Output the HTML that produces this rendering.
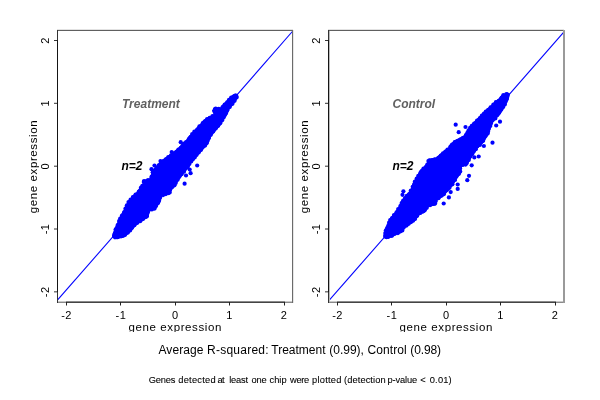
<!DOCTYPE html>
<html><head><meta charset="utf-8"><style>
html,body{margin:0;padding:0;background:#fff;width:600px;height:400px;overflow:hidden}
svg{display:block;will-change:transform}
text{font-family:"Liberation Sans",sans-serif;fill:#000}
.tk{font-size:11px;letter-spacing:0.4px}
.lab{font-size:11.5px;letter-spacing:0.6px}
.ann{font-size:12px;font-weight:bold;font-style:italic;fill:#606060}
.n2{font-size:12px;font-weight:bold;font-style:italic}
.ttl{font-size:12px}
.sub{font-size:10px;letter-spacing:-0.28px}
</style></head><body>
<svg width="600" height="400" viewBox="0 0 600 400">
<defs><clipPath id="cl"><rect x="0" y="0" width="600" height="332"/></clipPath></defs>
<rect width="600" height="400" fill="#fff"/>
<line x1="57.4" y1="300.2" x2="292.8" y2="31.0" stroke="#0000ff" stroke-width="1.1"/>
<g shape-rendering="crispEdges">
<rect x="57" y="29" width="236" height="1" fill="#e2e2e2"/>
<rect x="57" y="30" width="236" height="1" fill="#606060"/>
<rect x="57" y="301" width="236" height="1" fill="#cacaca"/>
<rect x="57" y="302" width="236" height="1" fill="#8a8a8a"/>
<rect x="66" y="301" width="219" height="1" fill="#8a8a8a"/>
<rect x="66" y="302" width="219" height="1" fill="#444"/>
<rect x="57" y="30" width="1" height="273" fill="#333"/>
<rect x="57" y="40" width="1" height="252" fill="#151515"/>
<rect x="292" y="30" width="1" height="273" fill="#6b6b6b"/>
<rect x="293" y="30" width="1" height="273" fill="#e6e6e6"/>
</g>
<line x1="66.5" y1="302" x2="66.5" y2="305.5" stroke="#222" stroke-width="1"/>
<line x1="120.5" y1="302" x2="120.5" y2="305.5" stroke="#222" stroke-width="1"/>
<line x1="175.5" y1="302" x2="175.5" y2="305.5" stroke="#222" stroke-width="1"/>
<line x1="229.5" y1="302" x2="229.5" y2="305.5" stroke="#222" stroke-width="1"/>
<line x1="284.5" y1="302" x2="284.5" y2="305.5" stroke="#222" stroke-width="1"/>
<line x1="54" y1="291.85" x2="57" y2="291.85" stroke="#333" stroke-width="1"/>
<line x1="54" y1="229" x2="57" y2="229" stroke="#333" stroke-width="1"/>
<line x1="54" y1="166.2" x2="57" y2="166.2" stroke="#333" stroke-width="1"/>
<line x1="54" y1="103.3" x2="57" y2="103.3" stroke="#333" stroke-width="1"/>
<line x1="54" y1="40.5" x2="57" y2="40.5" stroke="#333" stroke-width="1"/>
<text x="66.5" y="318.8" class="tk" text-anchor="middle">-2</text>
<text x="120.9" y="318.8" class="tk" text-anchor="middle">-1</text>
<text x="175.25" y="318.8" class="tk" text-anchor="middle">0</text>
<text x="229.6" y="318.8" class="tk" text-anchor="middle">1</text>
<text x="284" y="318.8" class="tk" text-anchor="middle">2</text>
<text transform="translate(49.2,291.85) rotate(-90)" class="tk" text-anchor="middle">-2</text>
<text transform="translate(49.2,229) rotate(-90)" class="tk" text-anchor="middle">-1</text>
<text transform="translate(49.2,166.2) rotate(-90)" class="tk" text-anchor="middle">0</text>
<text transform="translate(49.2,103.3) rotate(-90)" class="tk" text-anchor="middle">1</text>
<text transform="translate(49.2,40.5) rotate(-90)" class="tk" text-anchor="middle">2</text>
<text x="175.25" y="330.6" class="lab" text-anchor="middle" clip-path="url(#cl)">gene expression</text>
<text transform="translate(37.3,166.5) rotate(-90)" class="lab" text-anchor="middle">gene expression</text>
<line x1="329.3" y1="300.2" x2="564.2" y2="31.7" stroke="#0000ff" stroke-width="1.1"/>
<g shape-rendering="crispEdges">
<rect x="328" y="29" width="236" height="1" fill="#e2e2e2"/>
<rect x="328" y="30" width="236" height="1" fill="#606060"/>
<rect x="328" y="301" width="236" height="1" fill="#cacaca"/>
<rect x="328" y="302" width="236" height="1" fill="#8a8a8a"/>
<rect x="337" y="301" width="219" height="1" fill="#8a8a8a"/>
<rect x="337" y="302" width="219" height="1" fill="#444"/>
<rect x="328" y="30" width="1" height="273" fill="#333"/>
<rect x="329" y="31" width="1" height="271" fill="#bbb"/>
<rect x="328" y="40" width="1" height="252" fill="#151515"/>
<rect x="563" y="30" width="1" height="273" fill="#9a9a9a"/>
<rect x="564" y="30" width="1" height="273" fill="#9a9a9a"/>
</g>
<line x1="337.5" y1="302" x2="337.5" y2="305.5" stroke="#222" stroke-width="1"/>
<line x1="391.5" y1="302" x2="391.5" y2="305.5" stroke="#222" stroke-width="1"/>
<line x1="446.5" y1="302" x2="446.5" y2="305.5" stroke="#222" stroke-width="1"/>
<line x1="500.5" y1="302" x2="500.5" y2="305.5" stroke="#222" stroke-width="1"/>
<line x1="555.5" y1="302" x2="555.5" y2="305.5" stroke="#222" stroke-width="1"/>
<line x1="325" y1="291.85" x2="328" y2="291.85" stroke="#333" stroke-width="1"/>
<line x1="325" y1="229" x2="328" y2="229" stroke="#333" stroke-width="1"/>
<line x1="325" y1="166.2" x2="328" y2="166.2" stroke="#333" stroke-width="1"/>
<line x1="325" y1="103.3" x2="328" y2="103.3" stroke="#333" stroke-width="1"/>
<line x1="325" y1="40.5" x2="328" y2="40.5" stroke="#333" stroke-width="1"/>
<text x="337.5" y="318.8" class="tk" text-anchor="middle">-2</text>
<text x="391.9" y="318.8" class="tk" text-anchor="middle">-1</text>
<text x="446.25" y="318.8" class="tk" text-anchor="middle">0</text>
<text x="500.6" y="318.8" class="tk" text-anchor="middle">1</text>
<text x="555" y="318.8" class="tk" text-anchor="middle">2</text>
<text transform="translate(320.2,291.85) rotate(-90)" class="tk" text-anchor="middle">-2</text>
<text transform="translate(320.2,229) rotate(-90)" class="tk" text-anchor="middle">-1</text>
<text transform="translate(320.2,166.2) rotate(-90)" class="tk" text-anchor="middle">0</text>
<text transform="translate(320.2,103.3) rotate(-90)" class="tk" text-anchor="middle">1</text>
<text transform="translate(320.2,40.5) rotate(-90)" class="tk" text-anchor="middle">2</text>
<text x="446.25" y="330.6" class="lab" text-anchor="middle" clip-path="url(#cl)">gene expression</text>
<text transform="translate(308.3,166.5) rotate(-90)" class="lab" text-anchor="middle">gene expression</text>
<g fill="#0000ff">
<polygon points="235.20,93.25 231.50,95.50 227.00,100.00 222.50,104.50 220.20,107.50 214.20,107.50 212.00,110.50 213.50,114.20 207.50,117.20 203.00,120.20 200.00,124.00 197.00,127.00 192.50,132.20 188.00,136.70 186.00,140.00 182.20,143.70 178.50,147.50 174.00,151.20 168.70,155.00 163.50,158.70 159.00,162.50 156.00,166.20 152.20,170.00 151.00,174.00 149.20,178.50 143.20,180.00 142.50,183.70 140.20,186.70 136.50,192.00 133.00,195.00 128.70,200.20 125.00,206.20 123.50,210.00 121.70,213.00 119.70,216.70 117.50,222.00 115.20,226.50 113.50,231.00 112.00,235.50 112.70,237.70 116.50,239.20 119.50,238.50 124.00,237.70 127.70,234.70 132.20,230.20 136.70,225.00 142.50,221.20 148.00,217.50 148.50,216.70 150.00,211.50 154.70,210.00 156.00,208.50 160.50,202.50 162.00,196.50 170.20,194.20 172.50,189.00 176.20,185.00 177.70,182.20 180.00,179.00 183.70,173.70 188.20,168.50 191.20,163.20 196.50,157.20 203.20,149.70 208.70,143.00 211.00,137.00 213.00,134.50 216.00,130.70 220.50,125.50 224.20,119.50 227.20,115.00 229.50,109.70 232.30,106.00 236.70,100.00 238.70,96.25" fill="#0000ff"/>
<circle cx="234.4" cy="96.0" r="2.1"/>
<circle cx="231.2" cy="97.5" r="2.1"/>
<circle cx="229.0" cy="99.8" r="2.1"/>
<circle cx="227.2" cy="102.4" r="2.1"/>
<circle cx="224.7" cy="104.5" r="2.1"/>
<circle cx="222.6" cy="107.0" r="2.1"/>
<circle cx="218.7" cy="108.9" r="2.1"/>
<circle cx="215.7" cy="108.7" r="2.1"/>
<circle cx="214.7" cy="110.2" r="2.1"/>
<circle cx="214.7" cy="111.6" r="2.1"/>
<circle cx="212.5" cy="116.0" r="2.1"/>
<circle cx="209.7" cy="117.9" r="2.1"/>
<circle cx="207.1" cy="119.0" r="2.1"/>
<circle cx="205.3" cy="121.2" r="2.1"/>
<circle cx="202.8" cy="123.1" r="2.1"/>
<circle cx="199.4" cy="126.4" r="2.1"/>
<circle cx="197.3" cy="129.5" r="2.1"/>
<circle cx="194.4" cy="131.6" r="2.1"/>
<circle cx="192.2" cy="134.1" r="2.1"/>
<circle cx="190.6" cy="137.0" r="2.1"/>
<circle cx="188.8" cy="139.4" r="2.1"/>
<circle cx="186.1" cy="142.0" r="2.1"/>
<circle cx="183.9" cy="143.5" r="2.1"/>
<circle cx="182.5" cy="145.8" r="2.1"/>
<circle cx="180.8" cy="147.8" r="2.1"/>
<circle cx="178.4" cy="149.7" r="2.1"/>
<circle cx="176.4" cy="151.9" r="2.1"/>
<circle cx="173.8" cy="153.7" r="2.1"/>
<circle cx="171.0" cy="155.4" r="2.1"/>
<circle cx="168.3" cy="157.2" r="2.1"/>
<circle cx="165.9" cy="159.3" r="2.1"/>
<circle cx="163.6" cy="161.1" r="2.1"/>
<circle cx="161.3" cy="163.0" r="2.1"/>
<circle cx="158.7" cy="165.4" r="2.1"/>
<circle cx="156.3" cy="168.4" r="2.1"/>
<circle cx="154.6" cy="170.5" r="2.1"/>
<circle cx="152.7" cy="172.3" r="2.1"/>
<circle cx="151.5" cy="176.8" r="2.1"/>
<circle cx="148.0" cy="180.2" r="2.1"/>
<circle cx="145.2" cy="181.5" r="2.1"/>
<circle cx="143.8" cy="182.0" r="2.1"/>
<circle cx="142.3" cy="185.9" r="2.1"/>
<circle cx="140.9" cy="189.2" r="2.1"/>
<circle cx="138.8" cy="191.7" r="2.1"/>
<circle cx="135.6" cy="194.5" r="2.1"/>
<circle cx="132.9" cy="197.1" r="2.1"/>
<circle cx="130.6" cy="199.6" r="2.1"/>
<circle cx="129.2" cy="202.6" r="2.1"/>
<circle cx="126.9" cy="205.3" r="2.1"/>
<circle cx="125.5" cy="208.6" r="2.1"/>
<circle cx="124.1" cy="212.4" r="2.1"/>
<circle cx="122.0" cy="215.5" r="2.1"/>
<circle cx="120.2" cy="218.5" r="2.1"/>
<circle cx="119.1" cy="221.1" r="2.1"/>
<circle cx="117.7" cy="225.0" r="2.1"/>
<circle cx="115.7" cy="229.3" r="2.1"/>
<circle cx="114.7" cy="233.9" r="2.1"/>
<circle cx="114.1" cy="236.0" r="2.1"/>
<circle cx="115.0" cy="237.3" r="2.1"/>
<circle cx="117.6" cy="237.2" r="2.1"/>
<circle cx="121.4" cy="236.2" r="2.1"/>
<circle cx="124.9" cy="235.0" r="2.1"/>
<circle cx="127.9" cy="232.6" r="2.1"/>
<circle cx="130.1" cy="230.4" r="2.1"/>
<circle cx="132.0" cy="227.8" r="2.1"/>
<circle cx="134.4" cy="225.2" r="2.1"/>
<circle cx="137.3" cy="222.8" r="2.1"/>
<circle cx="140.4" cy="221.1" r="2.1"/>
<circle cx="143.0" cy="219.0" r="2.1"/>
<circle cx="145.7" cy="217.0" r="2.1"/>
<circle cx="146.9" cy="216.3" r="2.1"/>
<circle cx="146.9" cy="214.8" r="2.1"/>
<circle cx="147.7" cy="212.2" r="2.1"/>
<circle cx="151.9" cy="209.5" r="2.1"/>
<circle cx="154.6" cy="208.6" r="2.1"/>
<circle cx="156.0" cy="206.1" r="2.1"/>
<circle cx="158.0" cy="203.0" r="2.1"/>
<circle cx="159.0" cy="200.5" r="2.1"/>
<circle cx="160.1" cy="197.6" r="2.1"/>
<circle cx="163.1" cy="195.1" r="2.1"/>
<circle cx="165.8" cy="194.1" r="2.1"/>
<circle cx="168.4" cy="193.1" r="2.1"/>
<circle cx="169.7" cy="192.4" r="2.1"/>
<circle cx="170.2" cy="189.6" r="2.1"/>
<circle cx="172.3" cy="187.0" r="2.1"/>
<circle cx="174.5" cy="185.3" r="2.1"/>
<circle cx="175.7" cy="182.9" r="2.1"/>
<circle cx="177.6" cy="179.7" r="2.1"/>
<circle cx="179.4" cy="176.6" r="2.1"/>
<circle cx="181.5" cy="174.2" r="2.1"/>
<circle cx="184.0" cy="171.7" r="2.1"/>
<circle cx="185.5" cy="168.4" r="2.1"/>
<circle cx="187.9" cy="166.6" r="2.1"/>
<circle cx="189.4" cy="163.9" r="2.1"/>
<circle cx="191.2" cy="161.5" r="2.1"/>
<circle cx="192.9" cy="159.3" r="2.1"/>
<circle cx="194.7" cy="157.4" r="2.1"/>
<circle cx="196.5" cy="154.9" r="2.1"/>
<circle cx="198.7" cy="152.5" r="2.1"/>
<circle cx="200.9" cy="149.9" r="2.1"/>
<circle cx="202.5" cy="147.3" r="2.1"/>
<circle cx="205.1" cy="145.6" r="2.1"/>
<circle cx="206.6" cy="143.2" r="2.1"/>
<circle cx="207.5" cy="140.8" r="2.1"/>
<circle cx="209.0" cy="137.9" r="2.1"/>
<circle cx="210.8" cy="134.8" r="2.1"/>
<circle cx="213.2" cy="131.5" r="2.1"/>
<circle cx="215.8" cy="128.3" r="2.1"/>
<circle cx="218.2" cy="125.8" r="2.1"/>
<circle cx="220.2" cy="123.3" r="2.1"/>
<circle cx="222.1" cy="120.3" r="2.1"/>
<circle cx="223.6" cy="117.5" r="2.1"/>
<circle cx="224.7" cy="115.0" r="2.1"/>
<circle cx="226.1" cy="112.9" r="2.1"/>
<circle cx="227.2" cy="110.3" r="2.1"/>
<circle cx="229.7" cy="107.0" r="2.1"/>
<circle cx="232.5" cy="103.8" r="2.1"/>
<circle cx="234.6" cy="100.8" r="2.1"/>
<circle cx="236.6" cy="97.5" r="2.1"/>
<circle cx="236.2" cy="95.7" r="2.1"/>
<circle cx="180.7" cy="142.2" r="2.1"/>
<circle cx="171.7" cy="152" r="2.1"/>
<circle cx="160.5" cy="161" r="2.1"/>
<circle cx="154.5" cy="165.5" r="2.1"/>
<circle cx="151.5" cy="169.2" r="2.1"/>
<circle cx="144" cy="181" r="2.1"/>
<circle cx="141" cy="187.5" r="2.1"/>
<circle cx="128.5" cy="202" r="2.1"/>
<circle cx="215" cy="109" r="2.1"/>
<circle cx="197.2" cy="165.5" r="2.1"/>
<circle cx="189.7" cy="169.5" r="2.1"/>
<circle cx="190.6" cy="173.2" r="2.1"/>
<circle cx="186" cy="175.5" r="2.1"/>
<circle cx="184.6" cy="183.7" r="2.1"/>
<polygon points="507.50,92.50 501.50,94.70 498.50,98.50 494.00,102.20 491.00,105.20 485.70,109.70 482.00,113.50 477.50,118.00 474.50,121.00 471.50,124.00 470.00,126.20 463.80,135.50 455.00,139.90 449.80,144.30 448.00,147.80 441.00,153.00 435.80,157.40 427.90,159.10 427.00,162.60 425.30,165.00 421.75,168.80 416.50,176.40 413.00,182.50 411.30,187.80 408.50,192.00 405.00,196.00 401.00,201.00 398.30,207.00 394.20,213.00 389.70,218.20 387.50,223.50 385.20,228.70 383.70,234.00 383.50,237.70 386.50,239.20 391.00,237.70 397.00,234.70 402.20,232.50 406.00,227.20 410.50,224.20 415.00,221.20 419.50,215.20 425.50,212.20 428.50,207.00 435.80,205.30 437.50,200.00 443.70,196.50 446.30,193.30 449.80,189.80 453.30,184.50 456.80,179.30 461.20,173.20 462.00,167.00 467.30,165.30 470.80,159.10 474.30,153.90 477.80,148.60 483.50,142.70 486.50,138.00 489.50,133.00 491.00,127.70 493.20,122.50 497.00,118.00 500.00,115.00 503.70,109.00 506.70,103.70 509.00,98.50 509.70,94.00" fill="#0000ff"/>
<circle cx="506.4" cy="94.0" r="2.1"/>
<circle cx="503.4" cy="95.1" r="2.1"/>
<circle cx="501.6" cy="97.9" r="2.1"/>
<circle cx="498.6" cy="101.0" r="2.1"/>
<circle cx="495.9" cy="102.2" r="2.1"/>
<circle cx="493.4" cy="104.6" r="2.1"/>
<circle cx="490.6" cy="107.4" r="2.1"/>
<circle cx="488.2" cy="109.9" r="2.1"/>
<circle cx="485.8" cy="111.7" r="2.1"/>
<circle cx="484.0" cy="113.5" r="2.1"/>
<circle cx="481.9" cy="115.7" r="2.1"/>
<circle cx="480.0" cy="118.2" r="2.1"/>
<circle cx="477.1" cy="120.6" r="2.1"/>
<circle cx="474.2" cy="123.7" r="2.1"/>
<circle cx="471.8" cy="125.8" r="2.1"/>
<circle cx="470.1" cy="127.9" r="2.1"/>
<circle cx="468.6" cy="130.3" r="2.1"/>
<circle cx="467.4" cy="132.8" r="2.1"/>
<circle cx="465.9" cy="135.2" r="2.1"/>
<circle cx="463.1" cy="137.8" r="2.1"/>
<circle cx="460.3" cy="139.5" r="2.1"/>
<circle cx="457.4" cy="141.0" r="2.1"/>
<circle cx="454.7" cy="142.2" r="2.1"/>
<circle cx="452.2" cy="144.5" r="2.1"/>
<circle cx="450.4" cy="146.8" r="2.1"/>
<circle cx="447.5" cy="149.6" r="2.1"/>
<circle cx="445.4" cy="151.6" r="2.1"/>
<circle cx="443.1" cy="153.3" r="2.1"/>
<circle cx="440.9" cy="155.5" r="2.1"/>
<circle cx="438.4" cy="157.9" r="2.1"/>
<circle cx="434.8" cy="159.4" r="2.1"/>
<circle cx="432.3" cy="160.2" r="2.1"/>
<circle cx="429.5" cy="160.3" r="2.1"/>
<circle cx="428.4" cy="161.1" r="2.1"/>
<circle cx="427.3" cy="164.6" r="2.1"/>
<circle cx="425.8" cy="167.2" r="2.1"/>
<circle cx="423.5" cy="168.6" r="2.1"/>
<circle cx="421.9" cy="170.8" r="2.1"/>
<circle cx="420.2" cy="173.3" r="2.1"/>
<circle cx="418.3" cy="175.8" r="2.1"/>
<circle cx="416.7" cy="178.6" r="2.1"/>
<circle cx="414.9" cy="181.6" r="2.1"/>
<circle cx="414.2" cy="184.3" r="2.1"/>
<circle cx="412.7" cy="186.8" r="2.1"/>
<circle cx="410.8" cy="190.5" r="2.1"/>
<circle cx="409.1" cy="194.3" r="2.1"/>
<circle cx="406.8" cy="195.8" r="2.1"/>
<circle cx="405.0" cy="198.1" r="2.1"/>
<circle cx="403.2" cy="200.7" r="2.1"/>
<circle cx="401.7" cy="203.1" r="2.1"/>
<circle cx="400.4" cy="206.1" r="2.1"/>
<circle cx="398.2" cy="209.1" r="2.1"/>
<circle cx="396.5" cy="212.4" r="2.1"/>
<circle cx="394.0" cy="215.1" r="2.1"/>
<circle cx="392.1" cy="218.0" r="2.1"/>
<circle cx="390.2" cy="220.0" r="2.1"/>
<circle cx="389.1" cy="222.6" r="2.1"/>
<circle cx="388.4" cy="225.4" r="2.1"/>
<circle cx="387.1" cy="228.0" r="2.1"/>
<circle cx="385.9" cy="230.3" r="2.1"/>
<circle cx="385.3" cy="233.0" r="2.1"/>
<circle cx="385.2" cy="235.9" r="2.1"/>
<circle cx="385.8" cy="236.8" r="2.1"/>
<circle cx="388.2" cy="236.8" r="2.1"/>
<circle cx="391.9" cy="235.8" r="2.1"/>
<circle cx="394.6" cy="233.7" r="2.1"/>
<circle cx="397.9" cy="233.1" r="2.1"/>
<circle cx="400.2" cy="231.4" r="2.1"/>
<circle cx="402.3" cy="230.5" r="2.1"/>
<circle cx="403.6" cy="227.5" r="2.1"/>
<circle cx="406.5" cy="225.6" r="2.1"/>
<circle cx="408.6" cy="223.8" r="2.1"/>
<circle cx="410.8" cy="222.2" r="2.1"/>
<circle cx="413.0" cy="220.7" r="2.1"/>
<circle cx="415.0" cy="218.9" r="2.1"/>
<circle cx="417.2" cy="215.8" r="2.1"/>
<circle cx="420.2" cy="212.9" r="2.1"/>
<circle cx="423.2" cy="211.3" r="2.1"/>
<circle cx="424.9" cy="210.1" r="2.1"/>
<circle cx="426.8" cy="207.8" r="2.1"/>
<circle cx="430.0" cy="205.2" r="2.1"/>
<circle cx="433.5" cy="203.8" r="2.1"/>
<circle cx="435.1" cy="203.6" r="2.1"/>
<circle cx="435.8" cy="200.9" r="2.1"/>
<circle cx="438.5" cy="198.2" r="2.1"/>
<circle cx="441.2" cy="195.7" r="2.1"/>
<circle cx="444.0" cy="194.1" r="2.1"/>
<circle cx="446.6" cy="190.1" r="2.1"/>
<circle cx="449.5" cy="187.7" r="2.1"/>
<circle cx="450.9" cy="184.8" r="2.1"/>
<circle cx="452.6" cy="182.2" r="2.1"/>
<circle cx="455.0" cy="180.0" r="2.1"/>
<circle cx="456.3" cy="176.6" r="2.1"/>
<circle cx="458.9" cy="173.8" r="2.1"/>
<circle cx="460.2" cy="171.5" r="2.1"/>
<circle cx="460.0" cy="168.3" r="2.1"/>
<circle cx="462.8" cy="164.8" r="2.1"/>
<circle cx="465.6" cy="164.6" r="2.1"/>
<circle cx="466.8" cy="162.9" r="2.1"/>
<circle cx="468.8" cy="160.0" r="2.1"/>
<circle cx="470.0" cy="156.6" r="2.1"/>
<circle cx="472.0" cy="154.2" r="2.1"/>
<circle cx="473.6" cy="151.5" r="2.1"/>
<circle cx="475.8" cy="149.2" r="2.1"/>
<circle cx="477.3" cy="146.2" r="2.1"/>
<circle cx="479.9" cy="144.9" r="2.1"/>
<circle cx="481.1" cy="142.2" r="2.1"/>
<circle cx="483.2" cy="140.8" r="2.1"/>
<circle cx="484.0" cy="138.1" r="2.1"/>
<circle cx="485.7" cy="135.8" r="2.1"/>
<circle cx="487.7" cy="133.6" r="2.1"/>
<circle cx="488.0" cy="131.2" r="2.1"/>
<circle cx="488.8" cy="128.5" r="2.1"/>
<circle cx="490.3" cy="125.9" r="2.1"/>
<circle cx="491.1" cy="123.1" r="2.1"/>
<circle cx="492.6" cy="120.1" r="2.1"/>
<circle cx="495.3" cy="118.5" r="2.1"/>
<circle cx="497.1" cy="115.1" r="2.1"/>
<circle cx="499.2" cy="112.4" r="2.1"/>
<circle cx="501.3" cy="109.6" r="2.1"/>
<circle cx="503.2" cy="107.0" r="2.1"/>
<circle cx="504.8" cy="104.4" r="2.1"/>
<circle cx="505.5" cy="101.6" r="2.1"/>
<circle cx="506.8" cy="99.1" r="2.1"/>
<circle cx="507.3" cy="95.9" r="2.1"/>
<circle cx="507.7" cy="94.6" r="2.1"/>
<circle cx="455.7" cy="124.7" r="2.1"/>
<circle cx="458.7" cy="132.2" r="2.1"/>
<circle cx="465.5" cy="127" r="2.1"/>
<circle cx="500" cy="121.7" r="2.1"/>
<circle cx="496.2" cy="125.5" r="2.1"/>
<circle cx="492.5" cy="142.7" r="2.1"/>
<circle cx="483.9" cy="146" r="2.1"/>
<circle cx="478.7" cy="156.5" r="2.1"/>
<circle cx="474.3" cy="157.4" r="2.1"/>
<circle cx="471.7" cy="165.3" r="2.1"/>
<circle cx="469" cy="175.8" r="2.1"/>
<circle cx="467.3" cy="180.2" r="2.1"/>
<circle cx="457.7" cy="184.5" r="2.1"/>
<circle cx="457.7" cy="188.9" r="2.1"/>
<circle cx="452.4" cy="184.3" r="2.1"/>
<circle cx="450.7" cy="192.1" r="2.1"/>
<circle cx="448.9" cy="197.4" r="2.1"/>
<circle cx="443.7" cy="203.5" r="2.1"/>
<circle cx="420.9" cy="172" r="2.1"/>
<circle cx="403.4" cy="191.3" r="2.1"/>
<circle cx="402.5" cy="194.8" r="2.1"/>
</g>
<text x="122" y="107.7" class="ann">Treatment</text>
<text x="392.5" y="108" class="ann">Control</text>
<text x="121.5" y="170" class="n2">n=2</text>
<text x="392.5" y="169.8" class="n2">n=2</text>
<text x="148.7" y="382.8" style="font-size:9.3px;letter-spacing:-0.175px;stroke:#000;stroke-width:0.08px">Genes</text>
<text x="178.25" y="382.8" style="font-size:9.3px;letter-spacing:0.25px;stroke:#000;stroke-width:0.08px">detected</text>
<text x="217.5" y="382.8" style="font-size:9.3px;letter-spacing:-0.55px;stroke:#000;stroke-width:0.08px">at</text>
<text x="229.25" y="382.8" style="font-size:9.3px;letter-spacing:-0.212px;stroke:#000;stroke-width:0.08px">least</text>
<text x="251.6" y="382.8" style="font-size:9.3px;letter-spacing:-0.175px;stroke:#000;stroke-width:0.08px">one</text>
<text x="269.5" y="382.8" style="font-size:9.3px;letter-spacing:0.0px;stroke:#000;stroke-width:0.08px">chip</text>
<text x="290.0" y="382.8" style="font-size:9.3px;letter-spacing:-0.333px;stroke:#000;stroke-width:0.08px">were</text>
<text x="312.0" y="382.8" style="font-size:9.3px;letter-spacing:0.258px;stroke:#000;stroke-width:0.08px">plotted</text>
<text x="344.1" y="382.8" style="font-size:9.3px;letter-spacing:0.072px;stroke:#000;stroke-width:0.08px">(detection</text>
<text x="387.4" y="382.8" style="font-size:9.3px;letter-spacing:-0.117px;stroke:#000;stroke-width:0.08px">p-value</text>
<text x="420.3" y="382.8" style="font-size:9.3px;letter-spacing:0px;stroke:#000;stroke-width:0.08px">&lt;</text>
<text x="429.75" y="382.8" style="font-size:9.3px;letter-spacing:0.188px;stroke:#000;stroke-width:0.08px">0.01)</text>
<text x="158.5" y="353.8" style="font-size:12px;letter-spacing:0.083px">Average</text>
<text x="207.0" y="353.8" style="font-size:12px;letter-spacing:0.25px">R-squared:</text>
<text x="271.25" y="353.8" style="font-size:12px;letter-spacing:0.0px">Treatment</text>
<text x="329.25" y="353.8" style="font-size:12px;letter-spacing:0.0px">(0.99),</text>
<text x="367.5" y="353.8" style="font-size:12px;letter-spacing:0.083px">Control</text>
<text x="410.25" y="353.8" style="font-size:12px;letter-spacing:-0.1px">(0.98)</text>
</svg>
</body></html>
